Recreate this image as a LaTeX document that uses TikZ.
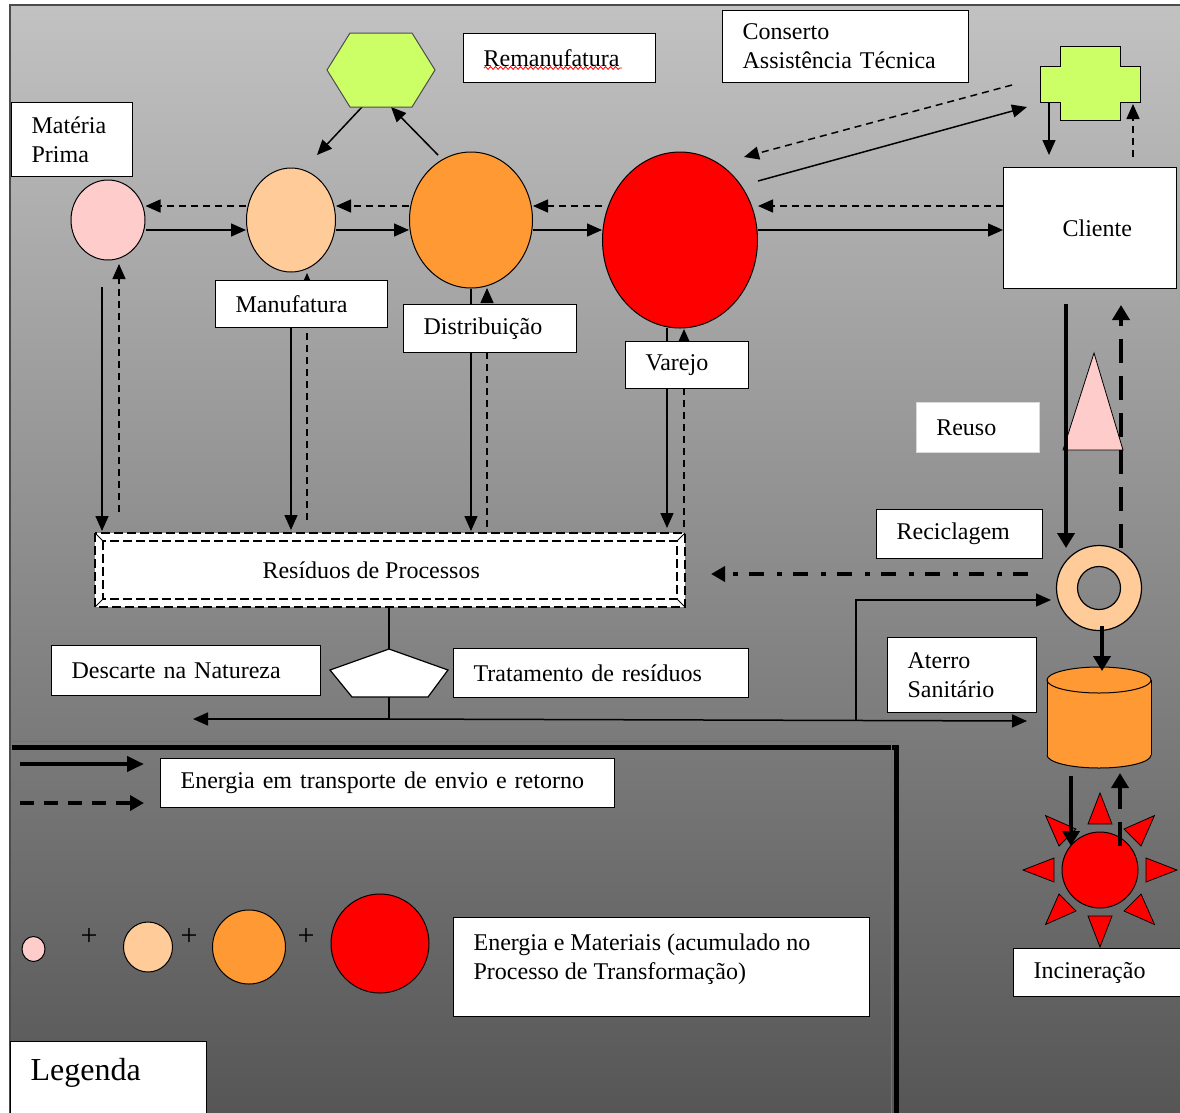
\documentclass[tikz,border=0pt]{standalone}
\usepackage{fontspec}
\setmainfont{Liberation Serif}
\usetikzlibrary{arrows.meta,shapes.geometric,decorations.pathmorphing}
\definecolor{cpink}{HTML}{FFCCCC}
\definecolor{cpeach}{HTML}{FFCC99}
\definecolor{corange}{HTML}{FF9933}
\definecolor{cred}{HTML}{FF0000}
\definecolor{cgreen}{HTML}{CCFF66}
\definecolor{bgtop}{HTML}{C2C2C2}
\definecolor{bgmid}{HTML}{A2A2A2}
\definecolor{bgbot}{HTML}{565656}
\pgfdeclarelayer{bgl}
\pgfdeclarelayer{lines}
\pgfsetlayers{bgl,lines,main}
\begin{document}
\begin{tikzpicture}[x=1pt,y=-1pt,
  every node/.style={font=\fontsize{24}{29}\selectfont},
  box/.style={draw=black, line width=1.2pt, fill=white, anchor=north west, inner xsep=20pt, inner ysep=0pt, align=left},
  ball/.style={ellipse, draw=black, line width=1pt, inner sep=0pt},
  arr/.style={line width=1.5pt, -{Triangle[length=15pt,width=13pt]}},
  darr/.style={arr, dash pattern=on 7pt off 5pt},
  bigarr/.style={line width=4.5pt, -{Triangle[length=15pt,width=17pt]}},
  bigdarr/.style={bigarr, dash pattern=on 24pt off 13pt},
  shp/.style={draw=black, line width=1pt},
  plain/.style={line width=1.5pt},
  plus/.style={inner sep=0pt, font=\fontsize{30}{34}\selectfont}
]
\useasboundingbox (0,0) rectangle (1180,1112);

\begin{pgfonlayer}{bgl}
\fill[white] (0,0) rectangle (1180,1112);
\shade[top color=bgtop, middle color=bgmid, bottom color=bgbot] (10,5) rectangle (1180,1112);
\draw[line width=2pt, black!70] (1181,5) -- (10,5) -- (10,1113);
\end{pgfonlayer}

% ---------- top row ----------
\node[minimum width=108pt, minimum height=74pt, inner sep=0pt] (hex) at (381,70) {};
\draw[shp, fill=cgreen, draw=black!70] (327,70) -- (350,33) -- (412,33) -- (435,70) -- (412,107) -- (350,107) -- cycle;
\node[box, text width=152pt, minimum height=49pt] (remtxt) at (463,33) {Remanufatura};
\draw[red, line width=0.8pt, decorate, decoration={snake, amplitude=1.4pt, segment length=5pt}] (484,68) -- (622,68);
\node[box, text width=206pt, minimum height=72pt] (cons) at (722,10) {Conserto\\Assistência Técnica};

\node[minimum width=100pt, minimum height=74pt, inner sep=0pt] (cross) at (1090,83) {};
\draw[shp, fill=cgreen] (1060,46) -- (1120,46) -- (1120,66) -- (1140,66) -- (1140,102) -- (1120,102) -- (1120,120) -- (1060,120) -- (1060,102) -- (1040,102) -- (1040,66) -- (1060,66) -- cycle;

\node[box, text width=81pt, minimum height=74pt] (mptxt) at (11,102) {Matéria\\Prima};

\node[ball, fill=cpink, minimum width=74pt, minimum height=80pt] (pink) at (108,220) {};
\node[ball, fill=cpeach, minimum width=89pt, minimum height=104pt] (man) at (291,220) {};
\node[ball, fill=corange, minimum width=123pt, minimum height=136pt] (dist) at (471,220) {};
\node[ball, fill=cred, minimum width=155pt, minimum height=176pt] (red) at (680,240) {};

\node[box, text width=133pt, minimum height=121pt] (cli) at (1003,167) {\hspace*{39pt}Cliente};

\node[box, text width=132pt, minimum height=47pt] (mantxt) at (215,280) {Manufatura};
\node[box, text width=133pt, minimum height=48pt] (disttxt) at (403,304) {Distribuição};
\node[box, text width=83pt, minimum height=47pt] (vartxt) at (625,341) {Varejo};

% ---------- right column ----------
\node[box, draw=white!85!black, line width=0.5pt, text width=83pt, minimum height=50pt] (reuso) at (916,402) {Reuso};
\node[box, text width=126pt, minimum height=49pt] (recic) at (876,509) {Reciclagem};
\node[box, text width=109pt, minimum height=75pt] (aterro) at (887,637) {Aterro\\Sanitário};

\node[circle, minimum size=85pt, inner sep=0pt, outer sep=0pt] (ring) at (1099,588) {};
\fill[cpeach, even odd rule] (ring.center) circle[radius=42.5] (ring.center) circle[radius=21.5];
\draw[line width=1.2pt] (ring.center) circle[radius=42.5] (ring.center) circle[radius=21.5];

\node[minimum width=104pt, minimum height=101pt, inner sep=0pt] (cyl) at (1099,717) {};
\fill[corange] (1047,680) rectangle (1151,755);
\fill[corange] (1099,755) ellipse[x radius=52, y radius=13];
\begin{scope}
\clip (1040,755) rectangle (1160,775);
\draw[line width=1pt] (1099,755) ellipse[x radius=52, y radius=13];
\end{scope}
\draw[line width=1pt] (1047,680) -- (1047,755) (1151,680) -- (1151,755);
\filldraw[fill=corange, line width=1pt] (1099,680) ellipse[x radius=52, y radius=13];

\node[circle, fill=cred, draw=black, line width=1pt, minimum size=76pt, inner sep=0pt] (sun) at (1100,870) {};
\begin{scope}[shift={(sun.center)}]
\foreach \a in {0,45,...,315}
  \draw[fill=cred, line width=0.8pt, rotate=\a] (46,-12) -- (77,0) -- (46,12) -- cycle;
\end{scope}
\node[box, text width=130pt, minimum height=48pt] (inc) at (1013,948) {Incineração};

% ---------- residues ----------
\node[fill=white, minimum width=590pt, minimum height=74pt, anchor=north west, inner sep=0pt] (res) at (95,533) {Resíduos de Processos\hspace*{38pt}};
\draw[line width=1.2pt, dash pattern=on 9pt off 4pt] (95,533) rectangle (685,607);
\draw[line width=1.2pt, dash pattern=on 9pt off 4pt] (103,541) rectangle (677,599);
\draw[line width=1pt] (95,533) -- (103,541) (685,533) -- (677,541) (95,607) -- (103,599) (685,607) -- (677,599);

\node[minimum width=118pt, minimum height=48pt, inner sep=0pt] (pent) at (389,673) {};
\draw[line width=1.2pt, fill=white] (389,649) -- (448,670) -- (428,697) -- (352,697) -- (330,670) -- cycle;

\node[box, text width=229pt, minimum height=50pt] (desc) at (51,645) {Descarte na Natureza};
\node[box, text width=255pt, minimum height=49pt] (trat) at (453,648) {Tratamento de resíduos};

% ---------- legend ----------
\draw[line width=1pt, black!55] (12,741) -- (897,741);
\draw[line width=5pt] (12,747.5) -- (899,747.5);
\draw[line width=1pt, black!55] (891,745) -- (891,1113);
\draw[line width=5pt] (896.5,745) -- (896.5,1113);

\coordinate (la1) at (20,764); \coordinate (la2) at (144,764);
\coordinate (lb1) at (20,803); \coordinate (lb2) at (144,803);
\draw[line width=4pt, -{Triangle[length=17pt,width=15pt]}] (la1) -- (la2);
\draw[line width=3.5pt, dash pattern=on 14pt off 10pt, -{Triangle[length=14pt,width=15pt]}] (lb1) -- (lb2);
\node[box, text width=414pt, minimum height=49pt] (leg1) at (160,758) {Energia em transporte de envio e retorno};

\node[ball, fill=cpink, minimum width=23pt, minimum height=25pt] (l1) at (33.5,949) {};
\node[ball, fill=cpeach, minimum width=49pt, minimum height=50pt] (l2) at (148,947) {};
\node[ball, fill=corange, minimum width=73pt, minimum height=74pt] (l3) at (249,947) {};
\node[ball, fill=cred, minimum width=98pt, minimum height=99pt] (l4) at (380,943.5) {};
\node[plus] (pl1) at (89,937) {+};
\node[plus] (pl2) at (189,937) {+};
\node[plus] (pl3) at (306,937) {+};
\node[box] (leg2) at (453,917) {\parbox[c][99pt][t]{376pt}{\vspace*{16pt}Energia e Materiais (acumulado no\\Processo de Transformação)}};
\node[box] (legenda) at (10,1041) {\parbox[c][90pt][t]{156pt}{\vspace*{17pt}\fontsize{32}{36}\selectfont Legenda}};

% ---------- connectors (behind nodes) ----------
\begin{pgfonlayer}{lines}
\filldraw[fill=cpink, draw=black, line width=0.8pt] (1094,353) -- (1123,450) -- (1063,450) -- cycle;
\coordinate (yd) at (0,206);
\coordinate (ys) at (0,230);
\draw[darr] (man.west |- yd) -- (pink.east |- yd);
\draw[arr] (pink.east |- ys) -- (man.west |- ys);
\draw[darr] (dist.west |- yd) -- (man.east |- yd);
\draw[arr] (man.east |- ys) -- (dist.west |- ys);
\draw[darr] (red.west |- yd) -- (dist.east |- yd);
\draw[arr] (dist.east |- ys) -- (red.west |- ys);
\draw[darr] (cli.west |- yd) -- (red.east |- yd);
\draw[arr] (red.east |- ys) -- (cli.west |- ys);

\draw[arr] (362,107) -- (317,155);
\draw[arr] (438,155) -- (391,107);

\draw[darr] (1012,85) -- (744,157);
\draw[arr] (758,181) -- (1027,107);
\draw[arr] (1049,103) -- (1049,155);
\draw[darr] (1133,157) -- (1133,104);

\draw[arr] (102,287) -- (102,531);
\draw[darr] (119,512) -- (119,264);
\draw[arr] (291,326) -- (291,530);
\draw[darr] (307,520) -- (307,273);
\draw[arr] (471,289) -- (471,531);
\draw[darr] (487,527) -- (487,288);
\draw[arr] (667,328) -- (667,528);
\draw[darr] (684,527) -- (684,329);

\draw[bigarr] (1066,304) -- (1066,548);
\draw[bigdarr] (1121,548) -- (1121,305);
\draw[line width=4pt, dash pattern=on 15pt off 11pt on 5pt off 13pt, -{Triangle[length=14pt,width=15pt]}] (1028,574) -- (711,574);

\draw[plain] (res.south -| pent.north) -- (pent.north);
\draw[plain] (pent.south) -- (389,719);
\draw[arr] (389,719) -- (193,719);
\draw[arr] (389,719) -- (1027,721);
\draw[arr] (856,720) |- (1051,600);
\end{pgfonlayer}

\draw[bigarr] (1102,626) -- (1102,671);
\draw[bigarr] (1071,776) -- (1071,846);
\draw[bigdarr] (1120,846) -- (1120,773);
\end{tikzpicture}
\end{document}
